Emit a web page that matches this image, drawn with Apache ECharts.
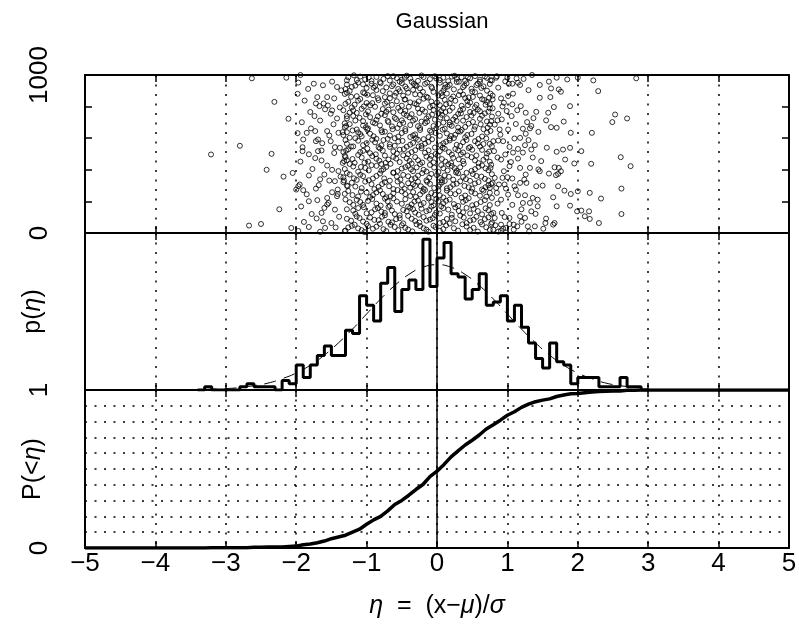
<!DOCTYPE html>
<html><head><meta charset="utf-8">
<script src="https://cdn.jsdelivr.net/npm/echarts/dist/echarts.min.js"></script>
<style>html,body{margin:0;padding:0;background:#fff}#c{width:799px;height:636px}</style>
</head><body><div id="c"></div>
<script>
// ---------- data ----------
const xTicks = [-5,-4,-3,-2,-1,0,1,2,3,4,5];
const histStart = -3.4;       // left edge of the first histogram bin
const binWidth = 0.1;
const histCounts = [0,1,0,0,0,0,1,2,1,1,1,0,3,2,8,4,8,11,14,11,11,19,18,30,27,22,34,39,25,32,35,32,48,33,42,47,37,36,29,32,37,27,28,30,22,27,20,15,10,7,15,9,8,2,4,4,4,1,1,1,4,1,1,0];
const gaussCurve = [[-3.3,0.2],[-3.0,0.44],[-2.8,0.8],[-2.6,1.4],[-2.4,2.2],[-2.2,3.6],[-2.0,5.4],[-1.8,7.9],[-1.6,11.1],[-1.4,15.0],[-1.2,19.4],[-1.0,24.2],[-0.8,29.0],[-0.6,33.3],[-0.4,36.8],[-0.2,39.1],[0,39.9],[0.2,39.1],[0.4,36.8],[0.6,33.3],[0.8,29.0],[1.0,24.2],[1.2,19.4],[1.4,15.0],[1.6,11.1],[1.8,7.9],[2.0,5.4],[2.2,3.6],[2.4,2.2],[2.6,1.4],[2.8,0.8],[2.9,0.6]];
const cdfPoints = [[-5,0],[-3.3,0],[-3.2,0.001],[-2.8,0.001],[-2.7,0.002],[-2.6,0.004],[-2.5,0.005],[-2.4,0.006],[-2.3,0.007],[-2.2,0.007],[-2.1,0.010],[-2.0,0.012],[-1.9,0.021],[-1.8,0.025],[-1.7,0.033],[-1.6,0.044],[-1.5,0.059],[-1.4,0.070],[-1.3,0.081],[-1.2,0.101],[-1.1,0.119],[-1.0,0.150],[-0.9,0.178],[-0.8,0.200],[-0.7,0.235],[-0.6,0.275],[-0.5,0.301],[-0.4,0.334],[-0.3,0.370],[-0.2,0.402],[-0.1,0.452],[0.0,0.486],[0.1,0.529],[0.2,0.577],[0.3,0.615],[0.4,0.652],[0.5,0.682],[0.6,0.715],[0.7,0.753],[0.8,0.780],[0.9,0.809],[1.0,0.840],[1.1,0.862],[1.2,0.890],[1.3,0.911],[1.4,0.926],[1.5,0.936],[1.6,0.944],[1.7,0.959],[1.8,0.968],[1.9,0.976],[2.0,0.978],[2.1,0.983],[2.2,0.987],[2.3,0.991],[2.4,0.992],[2.5,0.993],[2.6,0.994],[2.7,0.998],[2.8,0.999],[2.9,1.0],[5,1]];
const scatterLeft = [[-2.63,979],[-2.14,983],[-1.94,1000],[-1.98,881],[-1.75,945],[-1.49,958],[-1.42,924],[-1.28,966],[-1.28,888],[-1.70,860],[-1.56,860],[-1.72,820],[-1.67,803],[-1.61,820],[-1.55,807],[-1.49,776],[-1.51,755],[-1.74,740],[-1.42,725],[-1.28,740],[-2.11,723],[-1.29,677],[-1.85,634],[-1.73,645],[-1.56,645],[-1.40,634],[-1.34,638],[-1.28,638],[-1.90,592],[-1.72,581],[-1.69,592],[-1.51,581],[-1.45,543],[-1.38,539],[-1.29,522],[-1.91,543],[-1.91,518],[-1.69,518],[-1.64,522],[-2.80,552],[-2.35,501],[-3.21,497],[-1.64,459],[-1.30,480],[-1.34,444],[-1.32,455],[-2.42,400],[-1.49,400],[-2.18,357],[-1.82,364],[-1.60,370],[-1.66,340],[-1.53,332],[-1.45,328],[-1.37,357],[-1.32,332],[-1.95,307],[-1.97,296],[-2.00,275],[-1.90,271],[-1.72,281],[-1.27,296],[-1.82,201],[-1.56,222],[-1.54,190],[-1.56,180],[-1.42,233],[-1.41,247],[-1.60,159],[-1.64,127],[-1.62,74],[-1.50,63],[-2.67,47],[-2.50,57],[-2.07,32],[-1.82,38],[-1.59,32],[-1.30,15],
[-1.97,952],[-1.83,912],[-1.62,935],[-1.36,903],[-1.88,838],[-1.46,852],[-1.59,783],[-1.38,795],[-1.80,766],[-1.92,701],[-1.66,712],[-1.47,688],[-1.79,662],[-1.53,617],[-1.98,632],[-1.63,568],[-1.82,498],[-1.46,506],[-1.73,474],[-1.94,452],[-1.56,427],[-1.40,392],[-1.77,405],[-2.05,380],[-1.68,303],[-1.41,275],[-1.85,245],[-1.49,258],[-1.70,208],[-1.93,168],[-1.45,148],[-1.78,120],[-1.39,103],[-1.71,92],[-1.89,70],[-1.44,35],[-1.97,13],[-1.66,8],[-2.24,150],[-2.31,830]];
const scatterCentre = [
[-1.26,985],[-1.14,968],[-1.09,990],[-1.02,972],[-0.93,962],[-0.86,988],[-0.76,975],[-0.67,965],[-0.62,992],[-0.57,980],[-0.50,970],[-0.43,996],[-0.38,978],[-0.27,963],[-0.19,987],[-0.10,974],[-0.03,992],[0.04,968],[0.09,983],[0.16,961],[0.21,990],[0.28,975],[0.35,986],[0.40,964],[0.47,979],[0.54,993],[0.61,970],[0.71,982],[0.78,966],
[-1.28,940],[-1.21,925],[-1.12,952],[-1.00,918],[-0.93,945],[-0.88,930],[-0.81,955],[-0.72,921],[-0.62,940],[-0.55,912],[-0.50,949],[-0.45,927],[-0.36,957],[-0.31,935],[-0.24,915],[-0.17,944],[-0.08,926],[0.04,951],[0.11,919],[0.18,938],[0.28,956],[0.37,923],[0.42,947],[0.49,913],[0.56,936],[0.61,958],[0.66,928],[0.75,943],
[-1.31,880],[-1.24,899],[-1.14,866],[-1.05,890],[-0.91,872],[-0.86,905],[-0.74,860],[-0.67,884],[-0.53,897],[-0.48,869],[-0.41,888],[-0.34,906],[-0.24,875],[-0.15,862],[-0.05,893],[0.02,871],[0.09,902],[0.14,882],[0.23,864],[0.33,896],[0.37,876],[0.45,858],[0.54,891],[0.61,870],[0.71,901],
[-1.26,830],[-1.17,812],[-1.09,848],[-1.00,823],[-0.95,808],[-0.83,841],[-0.74,819],[-0.67,852],[-0.57,834],[-0.50,806],[-0.45,845],[-0.38,827],[-0.29,814],[-0.19,850],[-0.08,832],[0.04,809],[0.11,843],[0.18,821],[0.26,837],[0.35,805],[0.40,854],[0.47,826],[0.56,811],[0.64,847],[0.71,829],[0.75,816],
[-1.33,777],[-1.21,795],[-1.14,760],[-1.07,786],[-0.98,770],[-0.88,799],[-0.79,755],[-0.69,781],[-0.62,764],[-0.55,792],[-0.45,773],[-0.36,752],[-0.27,788],[-0.17,768],[-0.10,797],[-0.05,779],[0.02,758],[0.09,790],[0.18,774],[0.30,753],[0.37,785],[0.47,766],[0.54,796],[0.61,771],[0.68,757],[0.75,789],
[-1.28,725],[-1.19,741],[-1.05,708],[-0.95,733],[-0.86,716],[-0.74,746],[-0.69,702],[-0.60,729],[-0.50,713],[-0.43,744],[-0.31,721],[-0.22,705],[-0.12,738],[-0.03,717],[0.07,748],[0.14,727],[0.18,700],[0.26,735],[0.37,711],[0.49,743],[0.61,723],[0.71,706],[0.78,737],
[-1.31,670],[-1.24,689],[-1.14,655],[-1.05,680],[-0.98,662],[-0.88,694],[-0.79,650],[-0.64,675],[-0.53,687],[-0.45,658],[-0.38,683],[-0.24,665],[-0.17,696],[-0.10,648],[-0.05,677],[0.02,690],[0.11,660],[0.18,685],[0.30,668],[0.35,652],[0.45,692],[0.54,673],[0.66,657],[0.75,686],
[-1.33,620],[-1.24,603],[-1.12,637],[-1.07,612],[-0.95,628],[-0.86,596],[-0.74,641],[-0.67,617],[-0.60,600],[-0.50,633],[-0.38,608],[-0.31,624],[-0.19,594],[-0.08,639],[0.04,615],[0.14,630],[0.18,598],[0.26,622],[0.33,642],[0.40,606],[0.49,627],[0.59,595],[0.71,635],
[-1.28,565],[-1.19,548],[-1.12,584],[-1.05,556],[-0.88,574],[-0.83,543],[-0.76,588],[-0.67,561],[-0.55,579],[-0.43,546],[-0.34,570],[-0.27,590],[-0.22,552],[-0.12,577],[-0.03,541],[0.09,568],[0.18,586],[0.28,558],[0.37,575],[0.47,544],[0.54,581],[0.66,563],[0.78,549],
[-1.33,512],[-1.26,530],[-1.12,494],[-1.05,520],[-0.95,505],[-0.81,535],[-0.74,490],[-0.62,516],[-0.53,527],[-0.41,499],[-0.31,524],[-0.22,537],[-0.17,508],[-0.08,488],[0.04,518],[0.11,533],[0.21,496],[0.30,522],[0.37,510],[0.45,538],[0.56,491],[0.64,526],[0.71,503],
[-1.28,460],[-1.17,444],[-1.07,478],[-0.98,452],[-0.86,470],[-0.79,437],[-0.69,465],[-0.62,482],[-0.53,449],[-0.43,473],[-0.36,440],[-0.27,461],[-0.15,484],[-0.05,447],[0.07,468],[0.16,435],[0.23,476],[0.37,455],[0.49,480],[0.59,442],[0.66,463],[0.75,451],
[-1.31,405],[-1.19,421],[-1.12,388],[-1.02,412],[-0.93,429],[-0.79,395],[-0.72,418],[-0.62,383],[-0.50,408],[-0.41,426],[-0.34,391],[-0.29,415],[-0.19,400],[-0.10,431],[0.02,386],[0.09,410],[0.21,424],[0.28,393],[0.33,416],[0.42,381],[0.54,404],[0.64,428],[0.73,397],
[-1.33,352],[-1.24,370],[-1.14,336],[-1.05,360],[-0.91,345],[-0.81,376],[-0.67,331],[-0.57,357],[-0.48,368],[-0.36,340],[-0.27,363],[-0.15,333],[-0.08,374],[0.04,349],[0.11,365],[0.23,338],[0.30,378],[0.37,355],[0.47,330],[0.56,361],[0.68,343],[0.78,372],
[-1.28,300],[-1.21,318],[-1.07,284],[-0.93,309],[-0.83,292],[-0.74,322],[-0.62,278],[-0.50,304],[-0.41,315],[-0.38,287],[-0.31,298],[-0.27,325],[-0.19,280],[-0.10,311],[0.02,294],[0.07,320],[0.14,283],[0.23,306],[0.33,327],[0.45,289],[0.54,313],[0.64,276],[0.73,302],
[-1.31,248],[-1.26,266],[-1.12,231],[-1.00,256],[-0.91,240],[-0.81,270],[-0.72,226],[-0.62,251],[-0.50,263],[-0.38,234],[-0.34,259],[-0.24,244],[-0.17,272],[-0.12,229],[-0.08,253],[0.04,238],[0.14,268],[0.26,246],[0.35,224],[0.49,261],[0.61,236],[0.75,255],
[-1.24,195],[-1.14,210],[-1.05,178],[-0.98,203],[-0.86,186],[-0.74,217],[-0.67,172],[-0.57,199],[-0.45,214],[-0.36,181],[-0.27,206],[-0.19,190],[-0.12,219],[-0.05,175],[0.02,201],[0.09,188],[0.18,212],[0.30,171],[0.37,197],[0.45,220],[0.56,183],[0.68,208],
[-1.19,142],[-1.12,158],[-1.00,125],[-0.88,150],[-0.79,135],[-0.69,165],[-0.60,120],[-0.48,146],[-0.38,160],[-0.31,129],[-0.22,154],[-0.15,138],[-0.08,167],[0.04,123],[0.16,148],[0.26,162],[0.37,131],[0.52,153],[0.64,118],[0.73,144],
[-1.28,90],[-1.14,105],[-1.05,72],[-0.95,98],[-0.83,81],[-0.74,112],[-0.64,67],[-0.53,94],[-0.41,108],[-0.31,76],[-0.19,101],[-0.10,85],[-0.03,114],[0.09,70],[0.21,96],[0.33,110],[0.47,79],[0.56,103],[0.68,88],[0.78,66],
[-1.26,35],[-1.17,52],[-1.07,18],[-0.98,44],[-0.91,27],[-0.81,58],[-0.72,12],[-0.60,38],[-0.50,49],[-0.41,22],[-0.29,55],[-0.19,30],[-0.12,8],[-0.05,46],[0.09,25],[0.18,60],[0.30,15],[0.42,41],[0.52,33],[0.64,54],[0.75,20]];
const scatterCentre2 = [
[-1.18,998],[-1.05,941],[-0.97,985],[-0.80,948],[-0.70,993],[-0.53,958],[-0.46,982],[-0.33,944],[-0.22,997],[-0.14,952],[-0.01,978],[0.12,939],[0.25,995],[0.31,957],[0.44,984],[0.58,946],[0.68,991],
[-1.30,911],[-1.16,933],[-1.03,884],[-0.90,920],[-0.77,898],[-0.64,929],[-0.58,887],[-0.43,914],[-0.29,931],[-0.20,893],[-0.07,917],[0.06,886],[0.15,927],[0.24,909],[0.39,933],[0.50,895],[0.63,918],[0.76,882],
[-1.22,862],[-1.12,838],[-0.99,875],[-0.84,853],[-0.71,829],[-0.60,868],[-0.46,845],[-0.31,878],[-0.26,833],[-0.13,857],[0.00,826],[0.07,866],[0.20,849],[0.31,873],[0.43,835],[0.51,861],[0.67,842],[0.79,870],
[-1.30,818],[-1.19,776],[-1.04,801],[-0.92,822],[-0.77,784],[-0.64,811],[-0.52,773],[-0.40,799],[-0.32,820],[-0.21,781],[-0.06,806],[0.06,772],[0.13,815],[0.22,793],[0.33,776],[0.44,809],[0.58,782],[0.69,812],
[-1.24,762],[-1.10,729],[-1.01,751],[-0.84,738],[-0.72,767],[-0.58,721],[-0.47,754],[-0.39,732],[-0.25,760],[-0.15,725],[-0.07,749],[0.05,731],[0.12,765],[0.23,718],[0.34,757],[0.42,734],[0.52,760],[0.64,742],[0.73,768],
[-1.31,694],[-1.16,712],[-1.01,669],[-0.91,700],[-0.81,681],[-0.70,710],[-0.56,664],[-0.48,697],[-0.34,712],[-0.27,676],[-0.14,705],[-0.01,663],[0.09,699],[0.21,678],[0.28,709],[0.40,671],[0.51,703],[0.62,688],[0.72,667],
[-1.20,649],[-1.09,626],[-0.99,655],[-0.90,612],[-0.78,638],[-0.63,657],[-0.55,610],[-0.45,645],[-0.34,618],[-0.24,652],[-0.12,607],[-0.02,633],[0.08,654],[0.20,614],[0.30,643],[0.43,620],[0.53,656],[0.64,611],[0.76,646],
[-1.30,588],[-1.16,600],[-1.00,569],[-0.92,590],[-0.79,555],[-0.70,596],[-0.60,552],[-0.49,583],[-0.38,559],[-0.30,601],[-0.17,566],[-0.07,593],[0.05,556],[0.13,578],[0.24,601],[0.33,551],[0.42,589],[0.58,567],[0.70,598],
[-1.22,547],[-1.09,512],[-0.99,535],[-0.87,498],[-0.77,521],[-0.67,545],[-0.57,503],[-0.47,531],[-0.36,512],[-0.26,548],[-0.12,523],[-0.02,500],[0.08,540],[0.17,512],[0.26,532],[0.34,498],[0.50,527],[0.61,547],[0.74,515],
[-1.31,489],[-1.20,468],[-1.03,445],[-0.92,487],[-0.82,458],[-0.73,444],[-0.58,471],[-0.48,492],[-0.39,457],[-0.31,480],[-0.21,446],[-0.10,469],[0.01,490],[0.12,452],[0.20,443],[0.31,466],[0.43,491],[0.54,459],[0.70,478],
[-1.24,437],[-1.08,418],[-0.97,396],[-0.86,425],[-0.76,404],[-0.66,438],[-0.56,392],[-0.45,417],[-0.37,403],[-0.24,436],[-0.15,389],[-0.04,414],[0.06,430],[0.15,396],[0.25,411],[0.38,438],[0.49,393],[0.59,419],[0.69,409],[0.77,432],
[-1.28,380],[-1.18,346],[-1.09,369],[-0.97,334],[-0.86,361],[-0.75,345],[-0.62,380],[-0.52,338],[-0.41,359],[-0.31,347],[-0.21,379],[-0.11,350],[0.00,366],[0.07,335],[0.17,356],[0.27,383],[0.41,341],[0.51,373],[0.63,357],[0.73,332],
[-1.33,322],[-1.16,294],[-1.02,325],[-0.89,278],[-0.78,310],[-0.68,296],[-0.56,326],[-0.46,279],[-0.34,308],[-0.23,296],[-0.14,324],[-0.04,285],[0.04,306],[0.11,329],[0.19,290],[0.28,312],[0.39,298],[0.50,281],[0.59,322],[0.69,290],[0.77,310],
[-1.20,240],[-1.08,262],[-0.95,228],[-0.86,257],[-0.77,247],[-0.66,232],[-0.56,272],[-0.45,246],[-0.30,228],[-0.20,262],[-0.03,242],[0.02,270],[0.09,225],[0.19,251],[0.31,264],[0.40,237],[0.54,250],[0.66,268],[0.70,230],
[-1.30,212],[-1.19,178],[-1.09,196],[-0.92,215],[-0.80,173],[-0.70,201],[-0.62,219],[-0.50,185],[-0.41,167],[-0.32,199],[-0.23,178],[-0.08,196],[-0.01,215],[0.06,169],[0.13,204],[0.24,183],[0.41,208],[0.50,175],[0.62,196],[0.75,177],
[-1.28,150],[-1.16,122],[-1.04,163],[-0.93,131],[-0.84,158],[-0.74,127],[-0.64,142],[-0.53,112],[-0.43,137],[-0.34,151],[-0.26,116],[-0.11,145],[-0.01,129],[0.09,158],[0.21,116],[0.31,140],[0.42,159],[0.47,124],[0.58,139],[0.69,156],[0.77,121],
[-1.22,78],[-1.10,95],[-1.00,58],[-0.89,83],[-0.78,103],[-0.69,71],[-0.58,88],[-0.48,61],[-0.36,90],[-0.25,66],[-0.15,78],[-0.06,94],[0.04,63],[0.14,89],[0.26,74],[0.38,98],[0.42,63],[0.52,84],[0.62,69],[0.73,99],
[-1.31,12],[-1.21,45],[-1.12,29],[-1.03,6],[-0.86,40],[-0.76,24],[-0.66,52],[-0.55,18],[-0.45,33],[-0.35,10],[-0.24,44],[-0.15,21],[-0.02,37],[0.04,14],[0.13,48],[0.24,30],[0.36,55],[0.47,19],[0.58,9],[0.70,36]];
const scatterRight = [[0.76,966],[0.84,983],[1.0,983],[1.02,945],[1.07,945],[1.13,979],[1.15,951],[1.18,937],[1.35,1000],[1.46,937],[1.59,958],[1.70,983],[1.85,972],[1.62,915],[1.73,909],[1.76,894],[2.00,983],[2.22,966],[2.29,898],[2.83,979],[0.87,920],[0.74,856],[0.79,846],[0.91,852],[1.01,867],[0.95,824],[1.07,814],[1.19,803],[1.26,761],[1.41,767],[1.46,856],[1.58,761],[1.66,797],[1.89,803],[0.79,789],[0.87,755],[0.99,772],[1.06,740],[0.92,719],[0.77,708],[0.86,713],[1.28,702],[1.55,713],[1.62,670],[1.70,666],[1.34,677],[1.22,660],[1.32,662],[1.01,655],[0.89,655],[1.90,634],[2.20,634],[2.53,750],[2.49,702],[2.70,725],[1.26,628],[1.18,602],[1.10,598],[0.80,581],[0.87,585],[0.94,581],[0.75,564],[1.25,556],[1.39,556],[1.34,528],[1.70,514],[1.79,528],[1.89,539],[2.05,518],[1.22,509],[1.08,509],[0.81,518],[0.97,497],[0.91,465],[1.15,471],[1.48,455],[1.82,465],[2.61,480],[2.19,438],[2.75,423],[0.76,412],[1.03,423],[1.18,412],[1.32,412],[1.46,391],[1.44,402],[1.59,376],[1.67,416],[1.73,412],[1.69,366],[1.76,391],[1.72,374],[0.82,349],[0.93,349],[1.00,353],[1.07,345],[1.24,338],[1.18,317],[1.27,317],[0.79,317],[0.88,307],[0.96,307],[0.75,285],[0.84,285],[0.98,281],[1.10,296],[1.72,296],[1.81,268],[1.90,247],[2.00,264],[2.17,254],[2.33,218],[2.62,281],[0.85,254],[0.78,222],[0.91,211],[1.01,243],[1.15,239],[1.25,239],[1.36,222],[1.43,211],[1.22,190],[1.32,190],[1.43,169],[1.65,226],[1.70,169],[1.89,173],[1.99,137],[2.05,142],[2.16,137],[2.10,106],[2.17,89],[2.30,63],[2.62,120],[0.80,127],[0.92,127],[0.82,95],[1.03,95],[1.18,106],[1.25,95],[1.34,137],[1.55,91],[1.67,63],[1.54,63],[1.65,53],[0.77,57],[0.83,49],[0.91,53],[1.03,57],[1.09,53],[1.14,42],[0.98,32],[1.09,21],[1.29,42],[1.39,42],[1.51,27],[0.80,21],[0.91,15],[0.94,27],
[0.85,992],[0.97,960],[1.23,975],[1.08,882],[1.30,904],[0.93,801],[1.14,777],[1.37,727],[0.82,686],[1.12,690],[1.44,640],[0.90,622],[1.03,545],[1.30,588],[1.15,532],[0.86,478],[1.05,449],[1.36,478],[0.95,391],[1.26,370],[1.12,275],[1.41,296],[0.86,186],[1.07,178],[1.20,150],[0.96,101],[1.40,121],[1.20,71],[0.87,9],[1.31,10],[1.56,540],[1.61,860],[1.50,300],[1.80,705],[1.95,440]];

// ---------- chart ----------
const font = '"Liberation Sans", "DejaVu Sans", sans-serif';
const dotted = {type:[2,7.5], color:'#000', width:1.5};
const gridsPos = [{top:75,height:158},{top:233,height:157},{top:390,height:158}];
const grids = gridsPos.map(g => ({left:85, right:10, top:g.top, height:g.height, show:false,
  containLabel:false, outerBoundsMode:'none'}));
const minus = v => String(v).replace('-', '\u2212');

function xAx(gi, position, labels) {
  return {type:'value', gridIndex:gi, position, min:-5, max:5, interval:1,
    axisLine:{show:true, onZero:false, lineStyle:{color:'#000', width:2}},
    axisTick:{show:true, inside:true, length:7, lineStyle:{color:'#000', width:1.5}},
    axisLabel:{show:labels, color:'#000', fontFamily:font, fontSize:26, margin:3, formatter:minus,
      showMinLabel:true, showMaxLabel:true, hideOverlap:false},
    splitLine:{show:position==='bottom', lineStyle:dotted}};
}
const xAxes = [xAx(0,'bottom',false), xAx(0,'top',false), xAx(1,'bottom',false), xAx(1,'top',false), xAx(2,'bottom',true), xAx(2,'top',false)];
const italic = {fontStyle:'italic', fontFamily:font, fontSize:25, color:'#000'};
xAxes[4].name = '{i|\u03b7}  =  (x\u2212{i|\u03bc})/{i|\u03c3}';
xAxes[4].nameLocation = 'middle';
xAxes[4].nameGap = 46;
xAxes[4].nameMoveOverlap = false;
xAxes[4].nameTextStyle = {color:'#000', fontFamily:font, fontSize:25, rich:{i:italic}};

function yAx(gi, position, min, max, interval, opts) {
  return Object.assign({type:'value', gridIndex:gi, position, min, max, interval,
    axisLine:{show:true, onZero:false, lineStyle:{color:'#000', width:2}},
    axisTick:{show:false},
    axisLabel:{show:false},
    splitLine:{show:false}}, opts || {});
}
const yLabelStyle = (vals) => ({show:true, rotate:90, color:'#000', fontFamily:font, fontSize:26, margin:32,
  showMinLabel:true, showMaxLabel:true, formatter: v => vals.includes(v) ? String(v) : ''});
const tickIn = {show:true, inside:true, length:7, lineStyle:{color:'#000', width:1.5}};
const nameStyle = {color:'#000', fontFamily:font, fontSize:25, rich:{i:italic}};
const yAxes = [
  yAx(0,'left',0,1000,200,{axisTick:tickIn, axisLabel:yLabelStyle([0,1000])}),
  yAx(0,'right',0,1000,200,{axisTick:tickIn}),
  yAx(1,'left',0,50,10,{name:'p({i|\u03b7})', nameLocation:'middle', nameGap:39, nameRotate:90, nameMoveOverlap:false, nameTextStyle:nameStyle}),
  yAx(1,'right',0,50,10),
  yAx(2,'left',0,1,0.1,{axisLabel:yLabelStyle([0,1]), splitLine:{show:true, lineStyle:dotted},
     name:'P(<{i|\u03b7})', nameLocation:'middle', nameGap:39, nameRotate:90, nameMoveOverlap:false, nameTextStyle:nameStyle}),
  yAx(2,'right',0,1,0.1)
];

const zeroLine = {symbol:'none', silent:true, animation:false, label:{show:false},
  lineStyle:{type:'solid', color:'#000', width:1.5}, data:[{xAxis:0}]};

const histData = histCounts.map((c,i) => [+(histStart + i*binWidth).toFixed(2), c]);
histData.push([+(histStart + histCounts.length*binWidth).toFixed(2), 0]);

const chart = echarts.init(document.getElementById('c'), null, {renderer:'canvas'});
chart.setOption({
  animation:false,
  backgroundColor:'#fff',
  title:{text:'Gaussian', left:437, top:6, textAlign:'center',
    textStyle:{fontFamily:font, fontSize:22, fontWeight:'normal', color:'#000'}},
  grid:grids,
  xAxis:xAxes,
  yAxis:yAxes,
  series:[
    {type:'scatter', xAxisIndex:0, yAxisIndex:0, symbol:'circle', symbolSize:5,
     itemStyle:{color:'rgba(0,0,0,0)', borderColor:'#000', borderWidth:1},
     data:scatterLeft.concat(scatterCentre, scatterCentre2, scatterRight), markLine:zeroLine, z:3},
    {type:'line', xAxisIndex:2, yAxisIndex:2, data:gaussCurve, smooth:true, showSymbol:false,
     lineStyle:{color:'#000', width:1, type:[12,8]}, markLine:zeroLine, z:2},
    {type:'line', xAxisIndex:2, yAxisIndex:2, data:histData, step:'end', showSymbol:false,
     lineStyle:{color:'#000', width:3}, z:3},
    {type:'line', xAxisIndex:4, yAxisIndex:4, data:cdfPoints, showSymbol:false,
     lineStyle:{color:'#000', width:3.5}, markLine:zeroLine, z:3}
  ]
});
</script></body></html>
